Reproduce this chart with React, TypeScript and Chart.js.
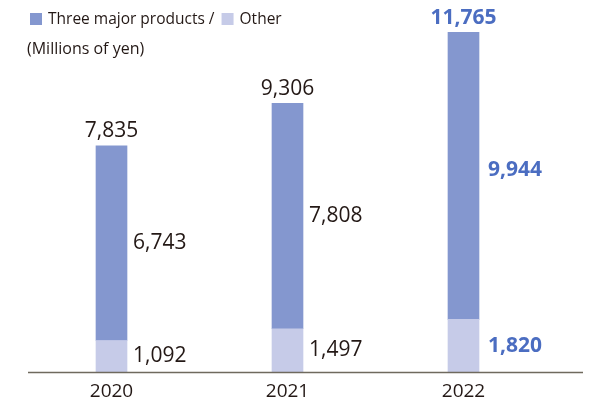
import React, { useEffect, useRef } from "react";
import { Chart, registerables } from "chart.js";

Chart.register(...registerables);

const years = ["2020", "2021", "2022"];
const otherValues = [1092, 1497, 1820];
const majorValues = [6743, 7808, 9944];
const totalValues = [7835, 9306, 11765];
const seriesNames = ["Three major products /", "Other"];
const unitLabel = "(Millions of yen)";

const MAJOR_COLOR = "#8497cf";
const OTHER_COLOR = "#c6cbe8";
const TEXT_COLOR = "#231815";
const HIGHLIGHT_COLOR = "#4b6dc1";
const FONT = "'Open Sans', 'Noto Sans', sans-serif";

const fmt = (v: number) => v.toLocaleString("en-US");

const labelPlugin = {
  id: "customLabels",
  afterDatasetsDraw(chart: any) {
    const ctx = chart.ctx;
    const metaOther = chart.getDatasetMeta(0);
    const metaMajor = chart.getDatasetMeta(1);
    ctx.save();
    // axis line
    const yBase = chart.scales.y.getPixelForValue(0);
    ctx.strokeStyle = "#6f6a5e";
    ctx.lineWidth = 1.5;
    ctx.beginPath();
    ctx.moveTo(28, yBase + 0.5);
    ctx.lineTo(583, yBase + 0.5);
    ctx.stroke();

    years.forEach((_, i) => {
      const last = i === years.length - 1;
      ctx.fillStyle = last ? HIGHLIGHT_COLOR : TEXT_COLOR;
      ctx.font = `${last ? "bold " : ""}21px ${FONT}`;
      const o = metaOther.data[i];
      const m = metaMajor.data[i];
      const half = o.width / 2;
      ctx.textAlign = "left";
      ctx.textBaseline = "middle";
      ctx.fillText(fmt(otherValues[i]), o.x + half + (last ? 9 : 6), (o.y + o.base) / 2);
      ctx.fillText(fmt(majorValues[i]), m.x + half + (last ? 9 : 6), (m.y + m.base) / 2 - (last ? 6 : 0));
      ctx.textAlign = "center";
      ctx.textBaseline = "alphabetic";
      ctx.fillText(fmt(totalValues[i]), m.x, m.y - 8.5);
    });

    // legend
    ctx.font = `15.5px ${FONT}`;
    ctx.textBaseline = "middle";
    ctx.textAlign = "left";
    ctx.fillStyle = MAJOR_COLOR;
    ctx.fillRect(30, 13, 12, 12);
    ctx.fillStyle = TEXT_COLOR;
    ctx.fillText(seriesNames[0], 48, 19.5);
    const w = ctx.measureText(seriesNames[0]).width;
    const x2 = Math.max(219, 48 + w + 7);
    ctx.fillStyle = OTHER_COLOR;
    ctx.fillRect(x2, 13, 12, 12);
    ctx.fillStyle = TEXT_COLOR;
    ctx.fillText(seriesNames[1], x2 + 18, 19.5);
    ctx.font = `16px ${FONT}`;
    ctx.fillText(unitLabel, 27, 49);
    ctx.restore();
  },
};

export default function App() {
  const ref = useRef<HTMLCanvasElement>(null);
  useEffect(() => {
    if (!ref.current) return;
    const chart = new Chart(ref.current, {
      type: "bar",
      data: {
        labels: years,
        datasets: [
          { label: seriesNames[1], data: otherValues, backgroundColor: OTHER_COLOR, barThickness: 31 },
          { label: seriesNames[0], data: majorValues, backgroundColor: MAJOR_COLOR, barThickness: 31 },
        ],
      },
      options: {
        animation: false,
        responsive: false,
        maintainAspectRatio: false,
        layout: { padding: { left: 23.5, right: 47.5, top: 11, bottom: 0 } },
        plugins: { legend: { display: false }, tooltip: { enabled: false } },
        scales: {
          x: {
            stacked: true,
            grid: { display: false, drawTicks: false },
            border: { display: false },
            ticks: { color: TEXT_COLOR, font: { family: FONT, size: 19 }, padding: 8 },
            afterFit: (s: any) => { s.height = 31; },
          },
          y: { stacked: true, display: false, min: 0, max: 12500 },
        },
      },
      plugins: [labelPlugin],
    });
    return () => chart.destroy();
  }, []);
  return (
    <div style={{ position: "fixed", left: 0, top: 0, width: 599, height: 403, background: "#fff" }}>
      <canvas ref={ref} width={599} height={403} style={{ width: 599, height: 403 }} />
    </div>
  );
}
